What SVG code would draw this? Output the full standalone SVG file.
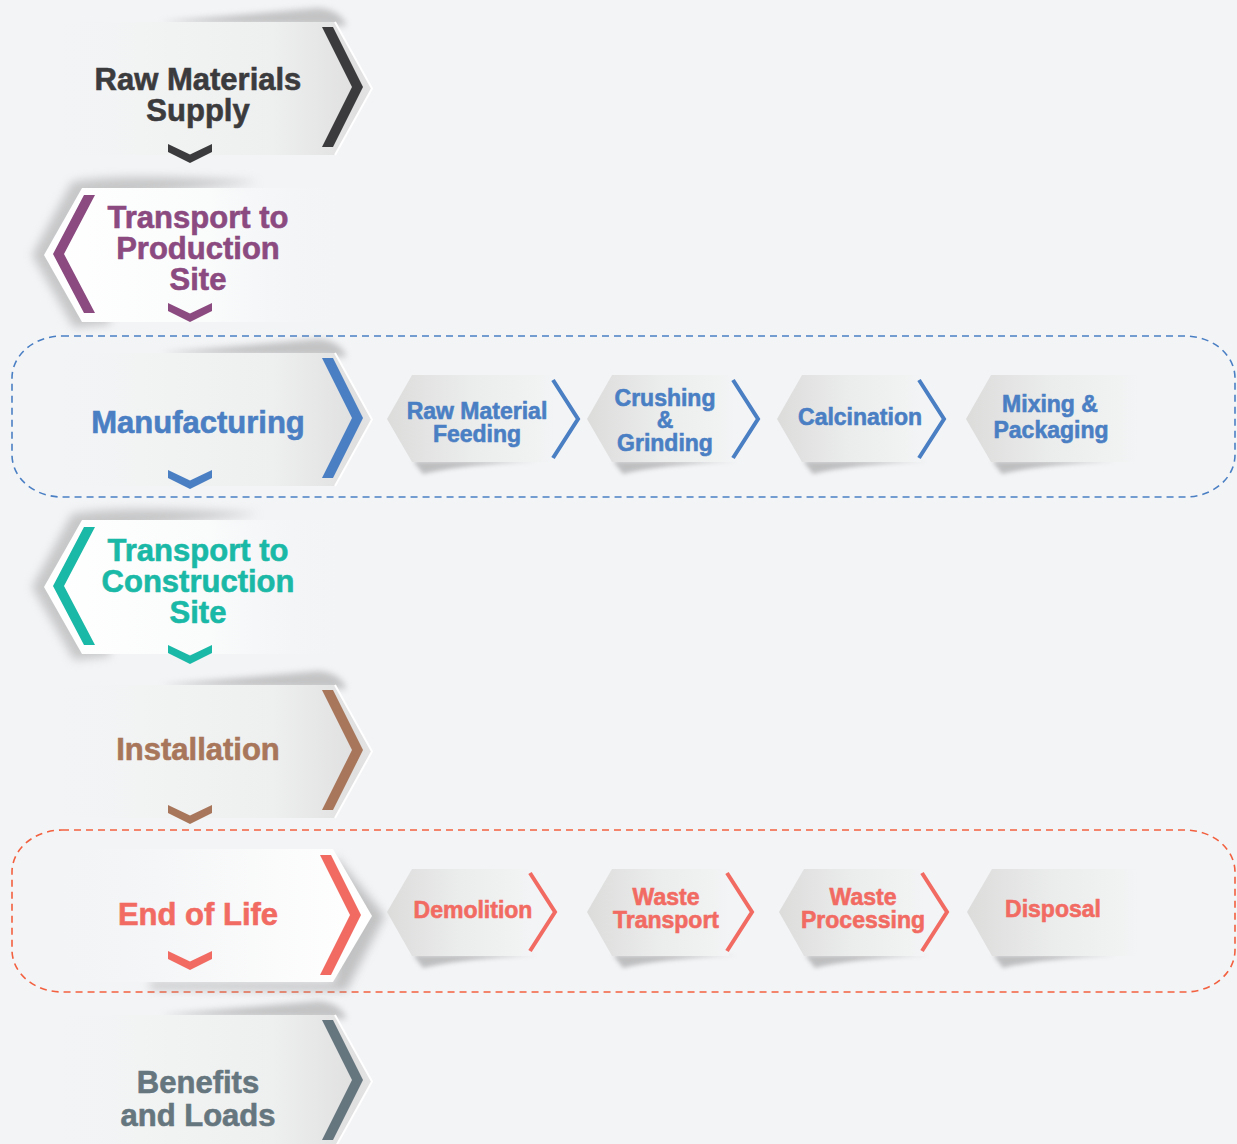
<svg xmlns="http://www.w3.org/2000/svg" width="1237" height="1144" viewBox="0 0 1237 1144">
<defs>
<style>
.t{font-family:"Liberation Sans",Arial,sans-serif;font-weight:700;text-anchor:middle;stroke-width:0.6;paint-order:stroke}
.big{font-size:31px}
.sm{font-size:23px}
.frame{fill:none;stroke-width:1.6;stroke-dasharray:7 5}
.edge{fill:none;stroke:#ffffff;stroke-width:2}
.dk{fill:#3b3b3d;stroke:#3b3b3d}
.pu{fill:#8b4a80;stroke:#8b4a80}
.bl{fill:#4a7fc4;stroke:#4a7fc4}
.te{fill:#1ab8a6;stroke:#1ab8a6}
.br{fill:#a8765a;stroke:#a8765a}
.co{fill:#f26b63;stroke:#f26b63}
.gr{fill:#66767e;stroke:#66767e}
</style>
<linearGradient id="gR" x1="0" y1="0" x2="1" y2="0">
<stop offset="0" stop-color="#f3f4f6" stop-opacity="0"/>
<stop offset="0.3" stop-color="#f2f3f3"/>
<stop offset="0.7" stop-color="#eeefef"/>
<stop offset="0.95" stop-color="#e0e0e0"/>
<stop offset="1" stop-color="#e4e4e4"/>
</linearGradient>
<linearGradient id="gL" x1="0" y1="0" x2="1" y2="0">
<stop offset="0" stop-color="#ffffff"/>
<stop offset="0.55" stop-color="#fafbfb"/>
<stop offset="1" stop-color="#f3f4f6" stop-opacity="0"/>
</linearGradient>
<linearGradient id="gE" x1="0" y1="0" x2="1" y2="0">
<stop offset="0" stop-color="#f3f4f6" stop-opacity="0"/>
<stop offset="0.35" stop-color="#f5f6f7"/>
<stop offset="1" stop-color="#ffffff"/>
</linearGradient>
<linearGradient id="gS" x1="0" y1="0" x2="1" y2="0">
<stop offset="0" stop-color="#dcdcdb"/>
<stop offset="0.5" stop-color="#ebecec"/>
<stop offset="0.9" stop-color="#f1f2f2"/>
<stop offset="1" stop-color="#f3f4f6"/>
</linearGradient>
<filter id="b5" x="-50%" y="-50%" width="200%" height="200%"><feGaussianBlur stdDeviation="5"/></filter>
<filter id="b3" x="-50%" y="-50%" width="200%" height="200%"><feGaussianBlur stdDeviation="3"/></filter>
<filter id="b2" x="-50%" y="-50%" width="200%" height="200%"><feGaussianBlur stdDeviation="2"/></filter>
<path id="curl" d="M160 0 L318 -14 Q338 -13 346 2 L346 4 Z"/>
<path id="mainR" d="M40 0 H335 L372 66.5 L335 133 H40 Z"/>
<path id="edgeR" d="M335 0 L372 66.5 L335 133"/>
<path id="chevR" d="M322 5 H333 L363 65 L333 125 H322 L352 65 Z"/>
<path id="mainL" d="M82 0 H345 V134 H82 L44 67 Z"/>
<path id="shL" d="M260 -6 Q120 -16 72 -6 L32 67 L74 140 L110 136 L110 10 Z"/>
<path id="chevL" d="M84 7 H95 L64 66 L95 125 H84 L53 66 Z"/>
<path id="down" d="M168 0 L190 10.5 L212 0 V8 L190 19 L168 8 Z"/>
<path id="subSh" d="M26 86 L150 86 Q70 90 36 99 Z"/>
</defs>
<rect width="1237" height="1144" fill="#f3f4f6"/>

<g id="connectors">
<rect class="frame" x="12" y="336" width="1223" height="161" rx="50" ry="42" stroke="#4a7fc4"/>
<rect class="frame" x="12" y="830" width="1223" height="162" rx="50" ry="42" stroke="#f2603f"/>
</g>

<g id="raw-materials-supply" transform="translate(0,22)">
<use href="#curl" fill="#9c9c9c" opacity="0.55" filter="url(#b3)"/>
<use href="#mainR" fill="url(#gR)"/>
<use href="#edgeR" class="edge"/>
<use href="#chevR" fill="#3b3b3d"/>
<text class="t big dk" x="198" y="68">Raw Materials<tspan x="198" dy="31">Supply</tspan></text>
<use href="#down" y="122" fill="#3b3b3d"/>
</g>

<g id="transport-production" transform="translate(0,188)">
<use href="#shL" fill="#a3a3a3" opacity="0.55" filter="url(#b5)"/>
<use href="#mainL" fill="url(#gL)"/>
<use href="#chevL" fill="#8b4a80"/>
<text class="t big pu" x="198" y="40">Transport to<tspan x="198" dy="31">Production</tspan><tspan x="198" dy="31">Site</tspan></text>
<use href="#down" y="115" fill="#8b4a80"/>
</g>

<g id="manufacturing" transform="translate(0,353)">
<use href="#curl" fill="#9c9c9c" opacity="0.55" filter="url(#b3)"/>
<use href="#mainR" fill="url(#gR)"/>
<use href="#edgeR" class="edge"/>
<use href="#chevR" fill="#4a7fc4"/>
<text class="t big bl" x="198" y="80">Manufacturing</text>
<use href="#down" y="117" fill="#4a7fc4"/>
</g>

<g id="raw-material-feeding" transform="translate(387,375)">
<use href="#subSh" fill="#8a8a8a" opacity="0.5" filter="url(#b2)"/>
<path d="M0 44 L25 0 H168 V87 H25 Z" fill="url(#gS)"/>
<polyline points="166,5 191,44 166,83" fill="none" stroke="#4a7fc4" stroke-width="4"/>
<text class="t sm bl" x="90" y="44">Raw Material<tspan x="90" dy="23">Feeding</tspan></text>
</g>

<g id="crushing-grinding" transform="translate(587,375)">
<use href="#subSh" fill="#8a8a8a" opacity="0.5" filter="url(#b2)"/>
<path d="M0 44 L25 0 H148 V87 H25 Z" fill="url(#gS)"/>
<polyline points="146,5 171,44 146,83" fill="none" stroke="#4a7fc4" stroke-width="4"/>
<text class="t sm bl" x="78" y="31">Crushing<tspan x="78" dy="22">&amp;</tspan><tspan x="78" dy="23">Grinding</tspan></text>
</g>

<g id="calcination" transform="translate(777,375)">
<use href="#subSh" fill="#8a8a8a" opacity="0.5" filter="url(#b2)"/>
<path d="M0 44 L25 0 H144 V87 H25 Z" fill="url(#gS)"/>
<polyline points="142,5 167,44 142,83" fill="none" stroke="#4a7fc4" stroke-width="4"/>
<text class="t sm bl" x="83" y="50">Calcination</text>
</g>

<g id="mixing-packaging" transform="translate(966,375)">
<use href="#subSh" fill="#8a8a8a" opacity="0.5" filter="url(#b2)"/>
<path d="M0 44 L25 0 H172 V87 H25 Z" fill="url(#gS)"/>
<text class="t sm bl" x="84" y="37">Mixing &amp;<tspan x="85" dy="26">Packaging</tspan></text>
</g>

<g id="transport-construction" transform="translate(0,520)">
<use href="#shL" fill="#a3a3a3" opacity="0.55" filter="url(#b5)"/>
<use href="#mainL" fill="url(#gL)"/>
<use href="#chevL" fill="#1ab8a6"/>
<text class="t big te" x="198" y="41">Transport to<tspan x="198" dy="31">Construction</tspan><tspan x="198" dy="31">Site</tspan></text>
<use href="#down" y="125" fill="#1ab8a6"/>
</g>

<g id="installation" transform="translate(0,685)">
<use href="#curl" fill="#9c9c9c" opacity="0.55" filter="url(#b3)"/>
<use href="#mainR" fill="url(#gR)"/>
<use href="#edgeR" class="edge"/>
<use href="#chevR" fill="#a8765a"/>
<text class="t big br" x="198" y="75">Installation</text>
<use href="#down" y="120" fill="#a8765a"/>
</g>

<g id="end-of-life" transform="translate(0,849)">
<path d="M335 6 L385 67 L346 142 L150 140 L150 133 L335 133 Z" fill="#9a9a9a" opacity="0.55" filter="url(#b5)"/>
<path d="M42 67 L82 0 H333 L372 67 L333 133 H82 Z" fill="url(#gE)"/>
<use href="#chevR" fill="#f26b63" transform="translate(-2,1)"/>
<text class="t big co" x="198" y="76">End of Life</text>
<use href="#down" y="102" fill="#f26b63"/>
</g>

<g id="demolition" transform="translate(387,869)">
<use href="#subSh" fill="#8a8a8a" opacity="0.5" filter="url(#b2)"/>
<path d="M0 43 L25 0 H145 V87 H25 Z" fill="url(#gS)"/>
<polyline points="143,4 168,43 143,82" fill="none" stroke="#f26b63" stroke-width="4"/>
<text class="t sm co" x="86" y="49">Demolition</text>
</g>

<g id="waste-transport" transform="translate(587,869)">
<use href="#subSh" fill="#8a8a8a" opacity="0.5" filter="url(#b2)"/>
<path d="M0 43 L25 0 H142 V87 H25 Z" fill="url(#gS)"/>
<polyline points="140,4 165,43 140,82" fill="none" stroke="#f26b63" stroke-width="4"/>
<text class="t sm co" x="79" y="36">Waste<tspan x="79" dy="23">Transport</tspan></text>
</g>

<g id="waste-processing" transform="translate(779,869)">
<use href="#subSh" fill="#8a8a8a" opacity="0.5" filter="url(#b2)"/>
<path d="M0 43 L25 0 H145 V87 H25 Z" fill="url(#gS)"/>
<polyline points="143,4 168,43 143,82" fill="none" stroke="#f26b63" stroke-width="4"/>
<text class="t sm co" x="84" y="36">Waste<tspan x="84" dy="23">Processing</tspan></text>
</g>

<g id="disposal" transform="translate(967,869)">
<use href="#subSh" fill="#8a8a8a" opacity="0.5" filter="url(#b2)"/>
<path d="M0 43 L25 0 H172 V87 H25 Z" fill="url(#gS)"/>
<text class="t sm co" x="86" y="48">Disposal</text>
</g>

<g id="benefits-loads" transform="translate(0,1015)">
<use href="#curl" fill="#9c9c9c" opacity="0.55" filter="url(#b3)"/>
<use href="#mainR" fill="url(#gR)"/>
<use href="#edgeR" class="edge"/>
<use href="#chevR" fill="#66767e"/>
<text class="t big gr" x="198" y="78">Benefits<tspan x="198" dy="33">and Loads</tspan></text>
</g>
</svg>
